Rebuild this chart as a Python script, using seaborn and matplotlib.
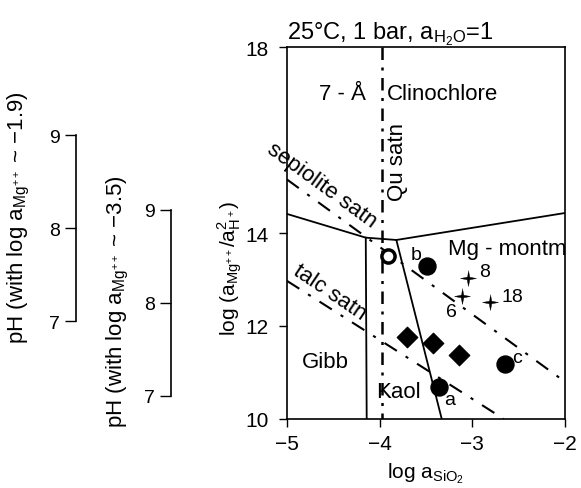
import matplotlib
matplotlib.use("Agg")
import matplotlib.pyplot as plt
import seaborn as sns

sns.set_theme(style="ticks")
plt.rcParams['font.family'] = ['Liberation Sans', 'DejaVu Sans']
plt.rcParams['mathtext.fontset'] = 'custom'
plt.rcParams['mathtext.rm'] = 'Liberation Sans'
plt.rcParams['mathtext.it'] = 'Liberation Sans:italic'
plt.rcParams['axes.unicode_minus'] = True
for k in ['text.color', 'axes.labelcolor', 'xtick.color', 'ytick.color', 'axes.edgecolor']:
    plt.rcParams[k] = 'black'

# phase boundaries (solid)
gibb_top_x = [-5.0, -4.15]
gibb_top_y = [14.41, 13.90]
gibb_kaol_x = [-4.15, -4.14]
gibb_kaol_y = [13.90, 10.0]
link_x = [-4.15, -3.82]
link_y = [13.90, 13.85]
kaol_mont_x = [-3.82, -3.33]
kaol_mont_y = [13.85, 10.0]
clino_mont_x = [-3.82, -2.0]
clino_mont_y = [13.85, 14.43]

# saturation lines (dash-dot)
qu_x = [-3.98, -3.98]
qu_y = [18.0, 10.0]
sep_x = [-5.0, -2.0]
sep_y = [15.15, 10.8]
talc_x = [-5.0, -2.66]
talc_y = [12.97, 10.0]

# samples
circ_x = [-3.49, -2.65, -3.36]
circ_y = [13.30, 11.18, 10.69]
circ_lab = ['b', 'c', 'a']
open_x = [-3.91]
open_y = [13.50]
diam_x = [-3.71, -3.42, -3.14]
diam_y = [11.76, 11.63, 11.38]
star_x = [-3.05, -3.11, -2.81]
star_y = [13.03, 12.65, 12.52]
star_lab = ['8', '6', '18']

# pH axes
ph_ticks = [7, 8, 9]
log_mg = [-1.9, -3.5]

W, H = 581, 489
fig = plt.figure(figsize=(W / 100, H / 100), dpi=100)
ax = fig.add_axes([287 / W, 69 / H, 278 / W, 372 / H])

lw = 1.3
for xs, ys in [(gibb_top_x, gibb_top_y), (gibb_kaol_x, gibb_kaol_y), (link_x, link_y),
               (kaol_mont_x, kaol_mont_y), (clino_mont_x, clino_mont_y)]:
    sns.lineplot(x=xs, y=ys, ax=ax, color='black', lw=lw, sort=False, estimator=None)

dashdot = (0, (7, 5, 1.5, 5))
sns.lineplot(x=qu_x, y=qu_y, ax=ax, color='black', lw=1.8, sort=False, estimator=None,
             linestyle=(0, (5, 3, 1.2, 3)))
for xs, ys in [(sep_x, sep_y), (talc_x, talc_y)]:
    sns.lineplot(x=xs, y=ys, ax=ax, color='black', lw=1.5, sort=False, estimator=None,
                 linestyle=dashdot)

sns.scatterplot(x=circ_x, y=circ_y, ax=ax, color='black', marker='o', s=150,
                edgecolor='black', zorder=5)
sns.scatterplot(x=open_x, y=open_y, ax=ax, color='white', marker='o', s=90,
                edgecolor='black', linewidth=2.5, zorder=5)
sns.scatterplot(x=diam_x, y=diam_y, ax=ax, color='black', marker='D', s=110,
                edgecolor='black', zorder=5)
star = [(0, 1), (0.16, 0.16), (1, 0), (0.16, -0.16), (0, -1), (-0.16, -0.16),
        (-1, 0), (-0.16, 0.16)]
sns.scatterplot(x=star_x, y=star_y, ax=ax, color='black', marker=star, s=130,
                edgecolor='black', linewidth=0.3, zorder=5)

# point labels
circ_off = [(-0.12, 0.14), (0.13, 0.05), (0.11, -0.37)]
for x, y, t, (dx, dy) in zip(circ_x, circ_y, circ_lab, circ_off):
    ax.text(x + dx, y + dy, t, fontsize=14, ha='center', va='baseline')
star_off = [(0.12, 0.05), (-0.12, -0.43), (0.12, 0.02)]
for x, y, t, (dx, dy) in zip(star_x, star_y, star_lab, star_off):
    ax.text(x + dx, y + dy, t, fontsize=14, ha='center' if t == '6' else 'left',
            va='baseline')

# field labels
fs = 16
ax.text(-4.15, 16.88, '7 - Å', fontsize=fs, ha='right', va='baseline')
ax.text(-3.92, 16.88, 'Clinochlore', fontsize=fs, ha='left', va='baseline')
ax.text(-3.81, 15.55, 'Qu satn', fontsize=fs, rotation=90, ha='center', va='center')
ax.text(-4.62, 15.03, 'sepiolite satn', fontsize=fs, rotation=-36, ha='center',
        va='center', rotation_mode='anchor')
ax.text(-4.54, 12.73, 'talc satn', fontsize=fs, rotation=-34, ha='center',
        va='center', rotation_mode='anchor')
ax.text(-3.26, 13.55, 'Mg - montm', fontsize=fs, ha='left', va='baseline')
ax.text(-4.59, 11.12, 'Gibb', fontsize=fs, ha='center', va='baseline')
ax.text(-3.80, 10.47, 'Kaol', fontsize=fs, ha='center', va='baseline')

ax.set_xlim(-5, -2)
ax.set_ylim(10, 18)
ax.set_xticks([-5, -4, -3, -2])
ax.set_yticks([10, 12, 14, 18])
ax.tick_params(labelsize=15, length=6, width=1, direction='out')
ax.tick_params(axis='y', pad=7)
ax.tick_params(axis='x', pad=5)
for s in ax.spines.values():
    s.set_linewidth(1.2)
ax.set_xlabel(r'log a$_{\mathrm{SiO_2}}$', fontsize=15, labelpad=5)
ax.set_ylabel(r'log (a$_{\mathrm{Mg^{++}}}$/a$^2_{\mathrm{H^+}}$)', fontsize=15)
ax.yaxis.set_label_coords(245 / W, (H - 268) / H, transform=fig.transFigure)
ax.set_title(r'25°C, 1 bar, a$_{\mathrm{H_2O}}$=1', loc='left', fontsize=17, pad=5)

# pH axes
ph_pos = [76, 171]
lab_pos = [32, 131]
lab_cy = [218, 302]
for xp, lm, lp, cy in zip(ph_pos, log_mg, lab_pos, lab_cy):
    pax = fig.add_axes([xp / W, 69 / H, 5 / W, 372 / H])
    pax.set_ylim(10, 18)
    pax.set_xticks([])
    pos = [lm + 2 * p for p in ph_ticks]
    pax.set_yticks(pos)
    pax.set_yticklabels([str(p) for p in ph_ticks])
    pax.tick_params(labelsize=14, length=8, width=1)
    for k in ['top', 'right', 'bottom']:
        pax.spines[k].set_visible(False)
    pax.spines['left'].set_bounds(pos[0], pos[-1])
    pax.spines['left'].set_linewidth(1.2)
    pax.patch.set_visible(False)
    pax.set_ylabel(r'pH (with log a$_{\mathrm{Mg^{++}}}$ ~ −%s)' % abs(lm), fontsize=16)
    pax.yaxis.set_label_coords(lp / W, (H - cy) / H, transform=fig.transFigure)

fig.savefig('out.png', dpi=100)
